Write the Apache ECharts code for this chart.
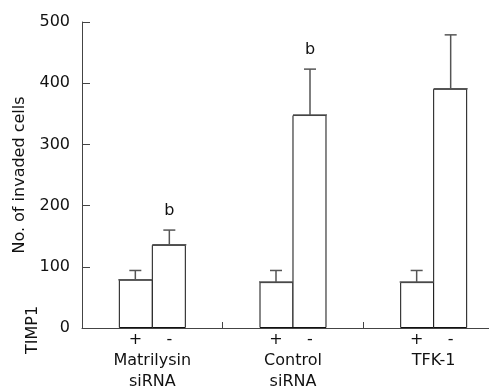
<!DOCTYPE html>
<html><head><meta charset="utf-8">
<script src="https://cdn.jsdelivr.net/npm/echarts@6/dist/echarts.min.js"></script>
<style>html,body{margin:0;padding:0;background:#fff;overflow:hidden;width:489px;height:392px}#c{width:510px;height:392px}</style>
</head><body><div id="c"></div>
<script>
const categories = ['Matrilysin\nsiRNA', 'Control\nsiRNA', 'TFK-1'];
const signLabels = ['+', '-', '+', '-', '+', '-'];
const plusValues = [79, 75, 75];
const plusErrors = [94, 94, 94];
const minusValues = [136, 348, 391];
const minusErrors = [160, 423, 479];
const minusMarks = ['b', 'b', ''];
const yTicks = [0, 100, 200, 300, 400, 500];

const FONT = 'DejaVu Sans';
const errData = [];
for (let i = 0; i < categories.length; i++) {
  errData.push([i, 0, plusValues[i], plusErrors[i], '']);
  errData.push([i, 1, minusValues[i], minusErrors[i], minusMarks[i]]);
}
const chart = echarts.init(document.getElementById('c'));
chart.setOption({
  animation: false,
  backgroundColor: '#fff',
  grid: { left: 82, top: 22, right: 6, bottom: 64, containLabel: false },
  xAxis: {
    type: 'category', data: categories,
    axisLine: { lineStyle: { color: '#444', width: 1 } },
    axisTick: { show: true, inside: true, length: 6, lineStyle: { color: '#444', width: 1 } },
    axisLabel: { margin: 22, color: '#111', fontFamily: FONT, fontSize: 16, lineHeight: 21 }
  },
  yAxis: {
    type: 'value', min: yTicks[0], max: yTicks[yTicks.length - 1], interval: 100,
    name: 'No. of invaded cells', nameLocation: 'middle', nameGap: 54,
    nameTextStyle: { color: '#111', fontFamily: FONT, fontSize: 16 },
    axisLine: { show: true, lineStyle: { color: '#444', width: 1 } },
    axisTick: { show: true, inside: true, length: 8, lineStyle: { color: '#444' } },
    axisLabel: { margin: 12, color: '#111', fontFamily: FONT, fontSize: 16 },
    splitLine: { show: false }
  },
  series: [{
    type: 'bar', name: '+', data: plusValues, barWidth: 34, barGap: '-3%',
    itemStyle: { color: '#fff', borderColor: '#111', borderWidth: 1 }
  }, {
    type: 'bar', name: '-', data: minusValues, barWidth: 34, barGap: '-3%',
    itemStyle: { color: '#fff', borderColor: '#111', borderWidth: 1 }
  }, {
    type: 'custom', data: errData, encode: { x: 0, y: [2, 3] }, z: 5,
    renderItem: function (params, api) {
      const off = api.value(1) === 0 ? -17 : 17;
      const p0 = api.coord([api.value(0), api.value(2)]);
      const p1 = api.coord([api.value(0), api.value(3)]);
      const x = p0[0] + off;
      const style = { stroke: '#555', lineWidth: 1.5 };
      const children = [
        { type: 'line', shape: { x1: x, y1: p0[1], x2: x, y2: p1[1] }, style: style },
        { type: 'line', shape: { x1: x - 6, y1: p1[1], x2: x + 6, y2: p1[1] }, style: style },
        { type: 'line', shape: { x1: x - 17, y1: p0[1], x2: x + 17, y2: p0[1] }, style: style }
      ];
      const mark = errData[params.dataIndex][4];
      if (mark) {
        children.push({ type: 'text', style: { text: mark, x: x, y: p1[1] - 11, textAlign: 'center', textVerticalAlign: 'bottom', fill: '#111', font: '16px ' + FONT } });
      }
      return { type: 'group', children: children };
    }
  }, {
    type: 'custom', data: signLabels.map((s, i) => [Math.floor(i / 2), i % 2, s]),
    encode: { x: 0 },
    renderItem: function (params, api) {
      const off = api.value(1) === 0 ? -17 : 17;
      const p = api.coord([api.value(0), 0]);
      return { type: 'text', style: { text: signLabels[params.dataIndex], x: p[0] + off, y: p[1] + 12, textAlign: 'center', textVerticalAlign: 'middle', fill: '#111', font: '16px ' + FONT } };
    }
  }],
  graphic: [{
    type: 'text', x: 33, y: 330, rotation: Math.PI / 2,
    style: { text: 'TIMP1', textAlign: 'center', textVerticalAlign: 'middle', fill: '#111', font: '16px ' + FONT }
  }]
});
</script></body></html>
